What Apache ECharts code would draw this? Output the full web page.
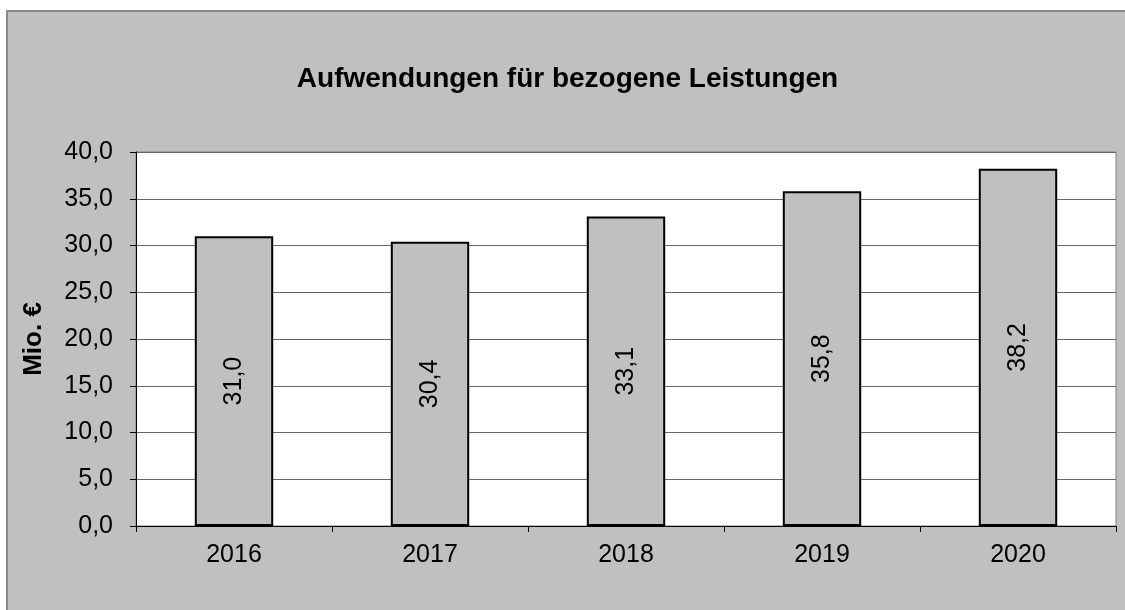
<!DOCTYPE html>
<html>
<head>
<meta charset="utf-8">
<script src="https://cdn.jsdelivr.net/npm/echarts@6/dist/echarts.min.js"></script>
<style>
    body { margin: 0; background: #fff; }
    #chart {
        position: absolute; left: 6px; top: 10px;
        width: 1119px; height: 600px;
        border-left: 2px solid #888; border-top: 2px solid #888;
    }
</style>
</head>
<body>
<div id="chart"></div>
<script>
var jahre = ['2016', '2017', '2018', '2019', '2020'];
var aufwendungen = [31.0, 30.4, 33.1, 35.8, 38.2];

function komma(v) {
    return v.toFixed(1).replace('.', ',');
}

var myChart = echarts.init(document.getElementById('chart'));
var schrift = '"Liberation Sans", Arial, sans-serif';

var option = {
    backgroundColor: '#c0c0c0',
    animation: false,
    textStyle: { fontFamily: schrift },
    title: {
        text: 'Aufwendungen für bezogene Leistungen',
        left: 'center',
        top: 48,
        textStyle: { fontSize: 28, fontWeight: 'bold', color: '#000', fontFamily: schrift }
    },
    grid: {
        left: 128,
        top: 140,
        width: 980,
        height: 374,
        show: true,
        backgroundColor: '#fff',
        borderColor: '#808080',
        borderWidth: 1
    },
    xAxis: {
        type: 'category',
        data: jahre,
        axisLine: { lineStyle: { color: '#000', width: 1 } },
        axisTick: { show: true, length: 6, lineStyle: { color: '#000' } },
        axisLabel: { fontSize: 25, color: '#000', margin: 17 }
    },
    yAxis: {
        type: 'value',
        min: 0,
        max: 40,
        interval: 5,
        name: 'Mio. €',
        nameLocation: 'middle',
        nameRotate: 90,
        nameGap: 89,
        nameTextStyle: { fontSize: 26, fontWeight: 'bold', color: '#000' },
        axisLine: { show: true, lineStyle: { color: '#000', width: 1 } },
        axisTick: { show: true, length: 6, lineStyle: { color: '#000' } },
        axisLabel: { fontSize: 25, color: '#000', margin: 23, formatter: komma },
        splitLine: { lineStyle: { color: '#666', width: 1 } }
    },
    series: [
        {
            type: 'bar',
            data: aufwendungen,
            barWidth: '40%',
            itemStyle: { color: '#c0c0c0', borderColor: '#000', borderWidth: 2 },
            label: {
                show: true,
                position: 'inside',
                rotate: 90,
                fontSize: 25,
                color: '#000',
                formatter: function (p) { return komma(p.value); }
            }
        }
    ]
};
myChart.setOption(option);
</script>
</body>
</html>
